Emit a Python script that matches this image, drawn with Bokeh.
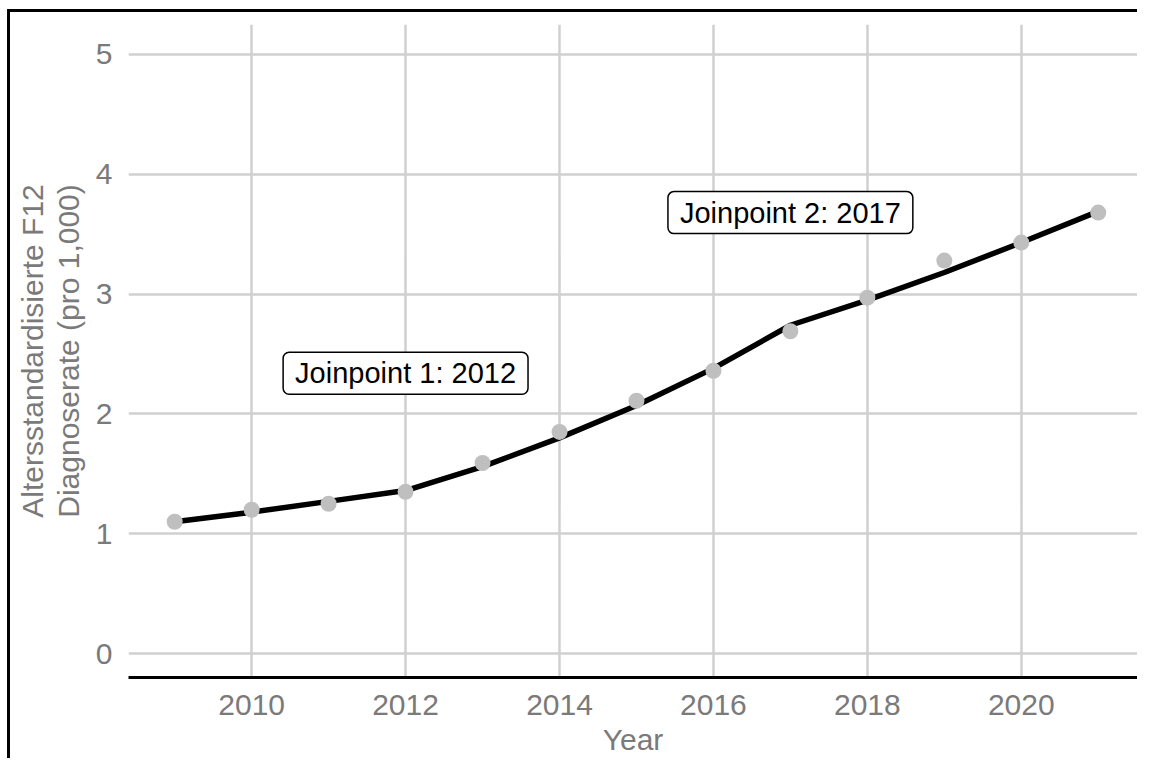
from bokeh.plotting import figure
from bokeh.models import ColumnDataSource, FixedTicker, Label, Range1d
from bokeh.embed import file_html
from bokeh.resources import INLINE

years = [2009, 2010, 2011, 2012, 2013, 2014, 2015, 2016, 2017, 2018, 2019, 2020, 2021]
observed = [1.10, 1.20, 1.25, 1.35, 1.59, 1.85, 2.11, 2.36, 2.69, 2.97, 3.28, 3.43, 3.68]
fitted = [1.10, 1.18, 1.27, 1.36, 1.56, 1.80, 2.07, 2.38, 2.74, 2.95, 3.18, 3.43, 3.69]
x_ticks = [2010, 2012, 2014, 2016, 2018, 2020]
y_ticks = [0, 1, 2, 3, 4, 5]
joinpoint_years = [2012, 2017]
joinpoint_label_y = [2.34, 3.68]
joinpoint_texts = ["Joinpoint 1: 2012", "Joinpoint 2: 2017"]
x_title = "Year"
y_title = "Altersstandardisierte F12\nDiagnoserate (pro 1,000)"

FONT = "Liberation Sans"
GRAY_TXT = "#7a7a7a"

src = ColumnDataSource(dict(year=years, obs=observed, fit=fitted))

p = figure(width=1137, height=758, output_backend="svg", toolbar_location=None,
           x_range=Range1d(2008.4, 2021.51), y_range=Range1d(-0.2, 5.25),
           min_border_left=128, min_border_right=0, min_border_top=24, min_border_bottom=81)
# outer frame lines (top and left) painted behind a transparent canvas border
p.styles = {
    "background-color": "white",
    "background-image": "linear-gradient(black, black), linear-gradient(black, black)",
    "background-size": "3px 100%, 100% 3px",
    "background-position": "7px 9px, 7px 9px",
    "background-repeat": "no-repeat",
}
p.outline_line_color = None
p.background_fill_color = "white"
p.border_fill_alpha = 0

p.line("year", "fit", source=src, line_color="black", line_width=5.5)
p.scatter("year", "obs", source=src, size=16, fill_color="#bfbfbf", line_color=None)

for xv, yv, t in zip(joinpoint_years, joinpoint_label_y, joinpoint_texts):
    p.add_layout(Label(x=xv, y=yv, text=t, text_align="center", text_baseline="middle",
                       text_font=FONT, text_font_size="29px", text_color="black",
                       background_fill_color="white", border_line_color="black",
                       border_line_width=1.5, border_radius=6,
                       padding=dict(left=12, right=12, top=5, bottom=5)))

p.xaxis.ticker = FixedTicker(ticks=x_ticks)
p.yaxis.ticker = FixedTicker(ticks=y_ticks)
p.xaxis.axis_label = x_title
p.yaxis.axis_label = y_title

for ax in (p.xaxis, p.yaxis):
    ax.major_tick_line_color = None
    ax.minor_tick_line_color = None
    ax.major_label_text_font = FONT
    ax.major_label_text_font_size = "30px"
    ax.major_label_text_color = GRAY_TXT
    ax.axis_label_text_font = FONT
    ax.axis_label_text_font_size = "30px"
    ax.axis_label_text_font_style = "normal"
    ax.axis_label_text_color = GRAY_TXT

p.yaxis.axis_label_text_line_height = 1.1

p.xaxis.axis_line_color = "black"
p.xaxis.axis_line_width = 3
p.xaxis.major_label_standoff = 11
p.xaxis.axis_label_standoff = 5
p.yaxis.axis_line_color = None
p.yaxis.major_label_standoff = 10
p.yaxis.axis_label_standoff = 8

p.xgrid.grid_line_color = "#d0d0d0"
p.ygrid.grid_line_color = "#d0d0d0"
p.xgrid.grid_line_width = 2.5
p.ygrid.grid_line_width = 2.5
p.xgrid.minor_grid_line_color = None
p.ygrid.minor_grid_line_color = None

open("out.html", "w").write(file_html(p, INLINE))
